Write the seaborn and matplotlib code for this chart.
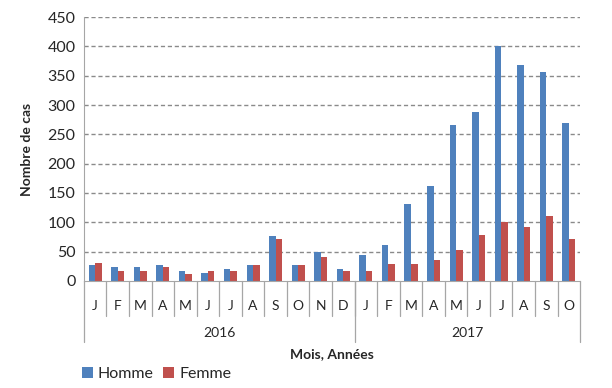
import numpy as np
import pandas as pd
import matplotlib
matplotlib.use("Agg")
import matplotlib.pyplot as plt
import matplotlib.transforms as mtransforms
import seaborn as sns

# données
mois = ["J", "F", "M", "A", "M", "J", "J", "A", "S", "O", "N", "D",
        "J", "F", "M", "A", "M", "J", "J", "A", "S", "O"]
annees = ["2016", "2017"]
n_mois_annee = [12, 10]
homme = [27, 23, 23, 27, 17, 13, 20, 27, 77, 27, 49, 20,
         45, 62, 131, 162, 266, 288, 400, 368, 356, 269]
femme = [31, 17, 17, 24, 12, 17, 17, 27, 72, 27, 40, 17,
         17, 29, 29, 36, 52, 78, 100, 92, 111, 72]

idx = [f"m{i}" for i in range(len(mois))]
df = pd.DataFrame({
    "periode": idx * 2,
    "cas": homme + femme,
    "sexe": ["Homme"] * len(idx) + ["Femme"] * len(idx),
})

sns.set_style("white")
plt.rcParams["font.family"] = ["Lato", "DejaVu Sans"]

fig = plt.figure(figsize=(6.12, 3.88), dpi=100)
ax = fig.add_axes([0.137, 0.276, 0.811, 0.680])

sns.barplot(data=df, x="periode", y="cas", hue="sexe", order=idx,
            palette={"Homme": "#4F81BD", "Femme": "#C0504D"},
            width=0.58, gap=0, linewidth=0, saturation=1, ax=ax, legend=True)

ax.set_ylim(0, 450)
ax.set_xlim(-0.5, len(idx) - 0.5)
ax.set_yticks(np.arange(0, 451, 50))
ax.tick_params(axis="y", length=0, labelsize=11.5, pad=6)
ax.tick_params(axis="x", length=0, labelsize=10, pad=14)
ax.set_xticks(range(len(idx)))
ax.set_xticklabels(mois)
for y in range(50, 451, 50):
    ax.axhline(y, color="#8a8a8a", lw=1.0, ls=(0, (3, 2)), zorder=0.5)

for s in ["top", "right"]:
    ax.spines[s].set_visible(False)
ax.spines["left"].set_color("#a6a6a6")
ax.spines["bottom"].set_color("#a6a6a6")

# séparateurs du double axe
tr = mtransforms.blended_transform_factory(ax.transData, ax.transAxes)
for i in range(1, len(idx)):
    ax.plot([i - 0.5, i - 0.5], [0, -0.133], transform=tr, color="#a6a6a6",
            lw=0.9, clip_on=False)
bornes = [-0.5]
for n in n_mois_annee:
    bornes.append(bornes[-1] + n)
for b in bornes:
    ax.plot([b, b], [0, -0.231], transform=tr, color="#a6a6a6",
            lw=0.9, clip_on=False)
for a, g, d in zip(annees, bornes[:-1], bornes[1:]):
    ax.text((g + d) / 2, -0.197, a, transform=tr, ha="center", va="center",
            fontsize=10)

ax.set_xlabel("Mois, Années", fontsize=10, fontweight="bold", labelpad=26)
ax.set_ylabel("Nombre de cas", fontsize=10, fontweight="bold", labelpad=10)

h, l = ax.get_legend_handles_labels()
ax.get_legend().remove()
fig.legend(h, l, loc="lower left", bbox_to_anchor=(0.11, -0.02), ncol=2,
           frameon=False, fontsize=11.5, handlelength=0.7, handleheight=0.7,
           handletextpad=0.3, columnspacing=0.6)

fig.savefig("out.png", dpi=100)
